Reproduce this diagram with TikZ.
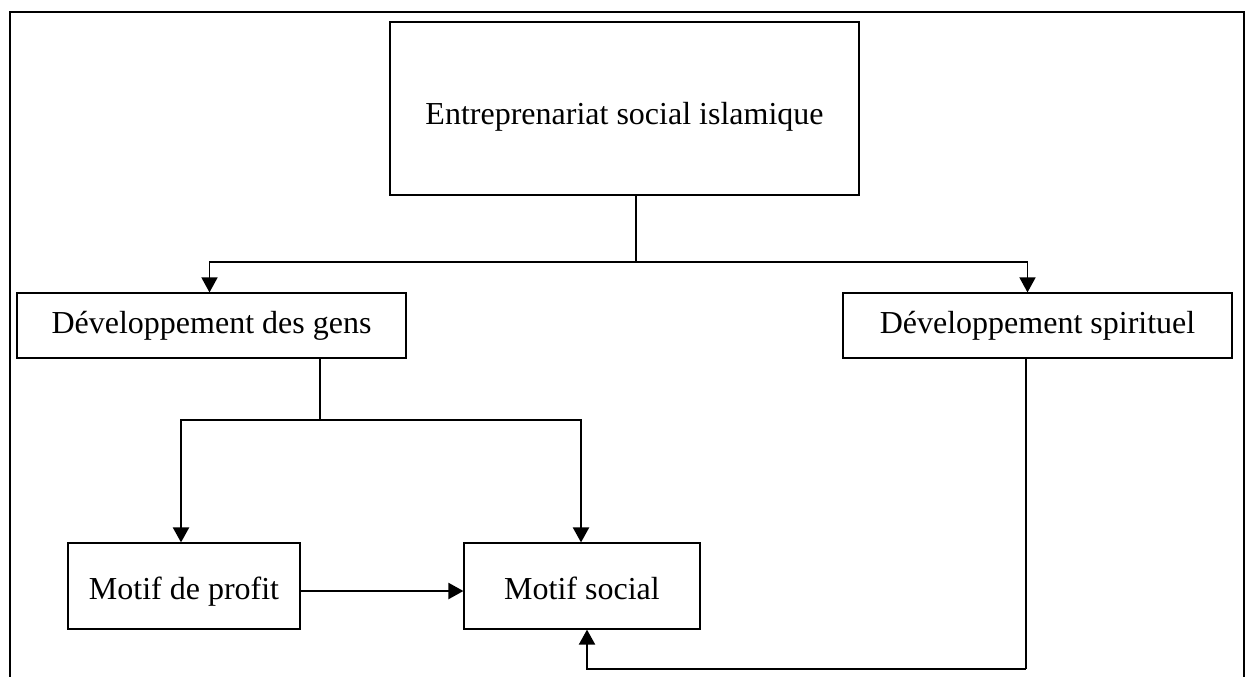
\documentclass[tikz,border=0pt]{standalone}
\usepackage{fontspec}
\setmainfont{Liberation Serif}
\usetikzlibrary{arrows.meta}

\tikzset{
  box/.style={draw, line width=0.6pt, inner sep=0pt, align=center, text depth=0pt,
    font=\fontsize{16}{19}\selectfont},
  link/.style={line width=0.6pt},
  arrow/.style={line width=0.8pt, -{Triangle[length=7.5pt,width=8pt]}},
  thickarrow/.style={line width=1.1pt, -{Triangle[length=7.5pt,width=8pt]}}
}

\begin{document}
\begin{tikzpicture}[x=0.5pt, y=-0.5pt]
    % Fix the page size and frame
    \useasboundingbox (0,0) rectangle (1251,676);
    \clip (0,0) rectangle (1251,676);
    \draw[line width=1.2pt] (10,12) rectangle (1244,720);

    % Draw the boxes
    \node[box, text height=15.5pt, minimum width=234.5pt, minimum height=86.5pt] (esi) at (624.5,108.5) {Entreprenariat social islamique};
    \node[box, text height=7.5pt, minimum width=194.5pt, minimum height=32.5pt] (dg) at (211.5,325.5) {Développement des gens};
    \node[box, text height=7.5pt, minimum width=194.5pt, minimum height=32.5pt] (ds) at (1037.5,325.5) {Développement spirituel};
    \node[box, text height=13pt, minimum width=116pt, minimum height=43pt] (mp) at (184,586) {Motif de profit};
    \node[box, text height=13pt, minimum width=118pt, minimum height=43pt] (ms) at (582,586) {Motif social};

    % Branch points
    \coordinate (split) at (636,262);
    \coordinate (splitlow) at (320,420);
    \coordinate (back) at (1026,669);

    % Connect the top box to the two developments
    \draw[link] (esi.south -| split) -- (split);
    \draw[arrow] (split) -| ([xshift=-1pt]dg.north);
    \draw[arrow] (split) -| ([xshift=-5pt]ds.north);

    % Connect the people development to both motives
    \draw[link] (dg.south -| splitlow) -- (splitlow);
    \draw[thickarrow] (splitlow) -| ([xshift=-1.5pt]mp.north);
    \draw[thickarrow] (splitlow) -| ([xshift=-0.5pt]ms.north);
    \draw[thickarrow] ([yshift=-2.5pt]mp.east) -- ([yshift=-2.5pt]ms.west);

    % Spiritual development back to the social motive
    \draw[link] (ds.south -| back) -- (back);
    \draw[thickarrow] (back) -| ([xshift=2.5pt]ms.south);

\end{tikzpicture}
\end{document}
